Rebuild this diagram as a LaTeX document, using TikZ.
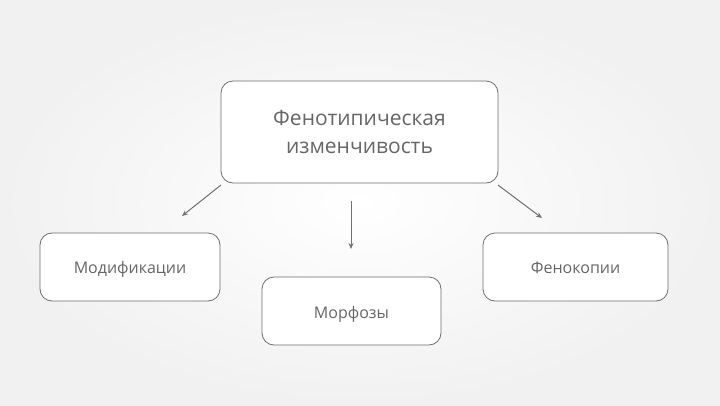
\documentclass[tikz,border=0pt]{standalone}
\usepackage{fontspec}
\setmainfont{Open Sans}
\usetikzlibrary{arrows.meta}
\definecolor{bgout}{HTML}{F1F1F1}
\definecolor{boxline}{HTML}{6E6E6E}
\definecolor{txt}{HTML}{666666}
\definecolor{arr}{HTML}{707070}
\begin{document}
\begin{tikzpicture}[x=1pt,y=-1pt,
  box/.style={draw=boxline, line width=0.8pt, fill=white, rounded corners=12pt, inner sep=0pt, text=txt, align=center},
  conn/.style={draw=arr, line width=1pt, -{Stealth[length=6pt,width=5pt]}}]
\useasboundingbox (0,0) rectangle (720,405);
\shade[inner color=white, outer color=bgout] (0,0) rectangle (720,405);
\node[box, minimum width=277pt, minimum height=102pt] (top) at (359.5,132) {};
\node[text=txt, align=center, font=\fontsize{21}{28}\selectfont] at (top.center) {Фенотипическая\\изменчивость};
\node[box, minimum width=180pt, minimum height=68pt] (mod) at (130,267) {};
\node[text=txt, font=\fontsize{16}{18}\selectfont] at ([yshift=-2pt]mod.center) {Модификации};
\node[box, minimum width=179pt, minimum height=68pt] (morf) at (351.5,311) {};
\node[text=txt, font=\fontsize{16}{18}\selectfont] at ([yshift=-3pt]morf.center) {Морфозы};
\node[box, minimum width=185pt, minimum height=68pt] (fen) at (575.5,267) {};
\node[text=txt, font=\fontsize{16}{18}\selectfont] at ([yshift=-1pt]fen.center) {Фенокопии};
\coordinate (a1s) at (221,185);
\coordinate (a1e) at (182,216);
\coordinate (a2s) at (351,201);
\coordinate (a2e) at (351,249);
\coordinate (a3s) at (498,185);
\coordinate (a3e) at (542,218);
\draw[conn] (a1s) -- (a1e);
\draw[conn] (a2s) -- (a2e);
\draw[conn] (a3s) -- (a3e);
\end{tikzpicture}
\end{document}
